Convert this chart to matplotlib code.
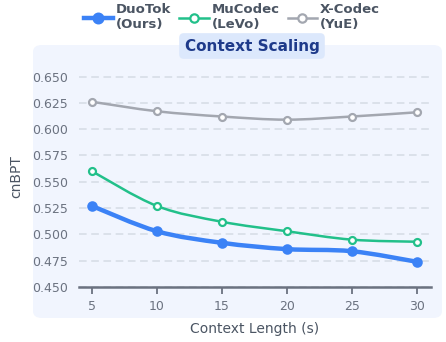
import matplotlib
matplotlib.use('Agg')
import matplotlib.pyplot as plt
from matplotlib.path import Path
from matplotlib.patches import PathPatch, FancyBboxPatch
from matplotlib.lines import Line2D

context = [5, 10, 15, 20, 25, 30]
duotok = [0.527, 0.503, 0.492, 0.486, 0.484, 0.474]
mucodec = [0.560, 0.527, 0.512, 0.503, 0.495, 0.493]
xcodec = [0.626, 0.617, 0.612, 0.609, 0.612, 0.616]
yticks = [0.450, 0.475, 0.500, 0.525, 0.550, 0.575, 0.600, 0.625, 0.650]

blue = '#3b82f6'
green = '#22c08a'
gray = '#a3a7b0'
tick_col = '#6b7280'


def smooth_path(x, y):
    # Catmull-Rom style bezier through the data points
    n = len(x)
    verts = [(x[0], y[0])]
    codes = [Path.MOVETO]
    for i in range(n - 1):
        x0, y0 = (x[i - 1], y[i - 1]) if i > 0 else (x[i], y[i])
        x3, y3 = (x[i + 2], y[i + 2]) if i + 2 < n else (x[i + 1], y[i + 1])
        c1 = (x[i] + (x[i + 1] - x0) / 6, y[i] + (y[i + 1] - y0) / 6)
        c2 = (x[i + 1] - (x3 - x[i]) / 6, y[i + 1] - (y3 - y[i]) / 6)
        verts += [c1, c2, (x[i + 1], y[i + 1])]
        codes += [Path.CURVE4] * 3
    return Path(verts, codes)


fig = plt.figure(figsize=(4.46, 3.42), dpi=100)

# rounded panel behind the plot
panel = FancyBboxPatch((33 / 446, 24 / 342), 409 / 446, 273 / 342,
                       boxstyle='round,pad=0,rounding_size=0.02',
                       transform=fig.transFigure, facecolor='#f1f5fe',
                       edgecolor='none', zorder=-1)
fig.patches.append(panel)

ax = fig.add_axes([79 / 446, 55 / 342, 352 / 446, 221 / 342])
ax.set_facecolor('none')
ax.set_zorder(1)

series = [
    (duotok, blue, 3.2, 6, blue, 'DuoTok\n(Ours)'),
    (mucodec, green, 1.8, 5, 'white', 'MuCodec\n(LeVo)'),
    (xcodec, gray, 1.8, 5, 'white', 'X-Codec\n(YuE)'),
]
handles = []
for vals, col, lw, ms, face, lab in series[::-1]:
    ax.add_patch(PathPatch(smooth_path(context, vals), facecolor='none',
                           edgecolor=col, lw=lw, capstyle='round', zorder=3))
    ax.plot(context, vals, linestyle='none', marker='o', markersize=ms,
            markerfacecolor=face, markeredgecolor=col, markeredgewidth=1.6, zorder=4)
for vals, col, lw, ms, face, lab in series:
    handles.append(Line2D([], [], color=col, lw=lw, marker='o', markersize=ms + 1,
                          markerfacecolor=face, markeredgecolor=col,
                          markeredgewidth=1.6, label=lab))

ax.set_xlim(4, 31.1)
ax.set_ylim(0.45, 0.66)
ax.set_xticks(context)
ax.set_yticks(yticks)
ax.set_yticklabels([f'{v:.3f}' for v in yticks])
ax.grid(axis='y', color='#d5dbe5', linestyle=(0, (5, 3)), linewidth=1.1, zorder=1)
for s in ['top', 'right', 'left']:
    ax.spines[s].set_visible(False)
ax.spines['bottom'].set_color(tick_col)
ax.spines['bottom'].set_linewidth(1.8)
ax.tick_params(axis='x', colors=tick_col, labelsize=9, length=5, width=1.3, pad=4)
ax.tick_params(axis='y', colors=tick_col, labelsize=9, length=0, pad=8)
ax.set_xlabel('Context Length (s)', fontsize=10, color='#4b5563', labelpad=7)
ax.set_ylabel('cnBPT', fontsize=10, color='#4b5563', labelpad=6)

fig.text(252 / 446, 1 - 46 / 342, 'Context Scaling', ha='center', va='center',
         fontsize=11, fontweight='bold', color='#1e3a8a', zorder=5,
         bbox=dict(boxstyle='round,pad=0.35,rounding_size=0.3',
                   facecolor='#dce8fc', edgecolor='none'))

leg = fig.legend(handles=handles, loc='upper left', bbox_to_anchor=(72 / 446, 1.025),
                 ncol=3, frameon=False, handlelength=2.2, handletextpad=0.25,
                 columnspacing=0.6, prop={'size': 9.5, 'weight': 'bold'})
for t in leg.get_texts():
    t.set_color('#4b5563')

fig.savefig('out.png', dpi=100)
